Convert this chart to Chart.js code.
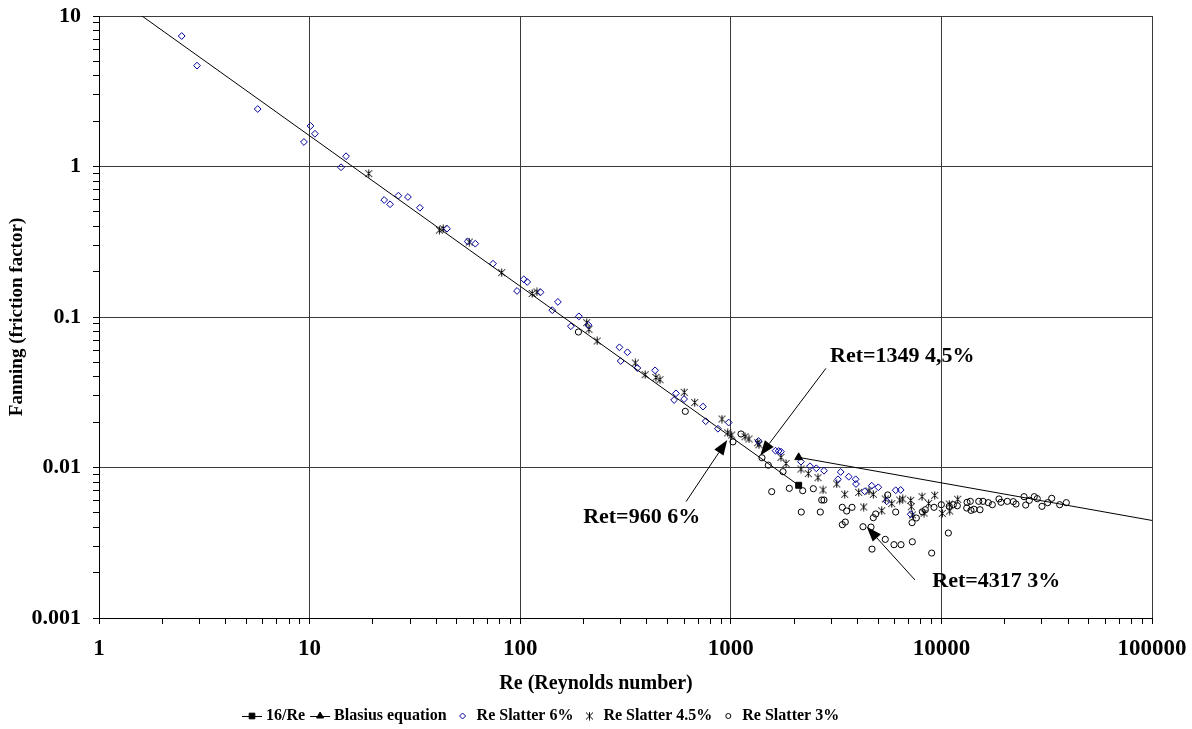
<!DOCTYPE html>
<html>
<head>
<meta charset="utf-8">
<title>Fanning friction factor vs Reynolds number</title>
<script src="https://cdn.jsdelivr.net/npm/chart.js@4.4.1/dist/chart.umd.min.js"></script>
<style>
    html, body { margin: 0; padding: 0; background: #fff; }
    #wrap { width: 1192px; height: 729px; position: relative; }
</style>
</head>
<body>
<div id="wrap"><canvas id="frictionChart"></canvas></div>
<script>
// Values: Reynolds number and Fanning friction factor

// 16/Re laminar line (first point sits above the plot and is clipped)
const laminarRe = [1, 2100];
const laminarF = [16, 0.00762];

// Blasius equation, runs off the right edge
const blasiusRe = [2100, 120000];
const blasiusF = [0.01168, 0.00425];

// Re Slatter 6%
const sixRe = [2.47, 2.92, 5.67, 9.4, 10.1, 10.6, 14.1, 14.9, 22.6, 24.1,
    26.4, 29.3, 33.4, 44.9, 56.3, 61.2, 74.3, 96.6, 104, 108,
    125, 142, 151, 174, 190, 211, 296, 323, 300, 360,
    437, 549, 538, 600, 738, 760, 869, 977, 1353, 1631,
    1688, 1731, 2154, 2377, 2547, 2770, 3325, 3228, 3630, 3917,
    3931, 4667, 5016, 4323, 6067, 6408, 5499, 7150];
const sixF = [7.36, 4.68, 2.41, 1.455, 1.86, 1.65, 0.988, 1.17, 0.599, 0.561,
    0.64, 0.627, 0.532, 0.386, 0.318, 0.307, 0.226, 0.149, 0.178, 0.171,
    0.146, 0.111, 0.126, 0.0868, 0.101, 0.0885, 0.0629, 0.0583, 0.051, 0.0458,
    0.0442, 0.0311, 0.0281, 0.0285, 0.0254, 0.0203, 0.0181, 0.0199, 0.015, 0.01293,
    0.01287, 0.01274, 0.01093, 0.01019, 0.00988, 0.00952, 0.00934, 0.00835, 0.00869, 0.00835,
    0.00777, 0.00757, 0.00739, 0.00695, 0.00706, 0.00709, 0.00596, 0.00489];

// Re Slatter 4.5%
const fourRe = [19.1, 41.3, 43.1, 57.3, 81.7, 114, 120, 207, 212, 232,
    352, 392, 441, 461, 601, 674, 908, 967, 1010, 1168,
    1220, 1342, 1361, 1731, 1829, 2154, 2333, 2594, 2741, 3183,
    3474, 4049, 4277, 4531, 4750, 5206, 5414, 5808, 6339, 6550,
    7150, 7195, 8090, 8270, 8700, 9295, 10100, 10900, 10950, 11950,
    7280];
const fourF = [0.896, 0.378, 0.386, 0.315, 0.197, 0.1433, 0.1466, 0.0917, 0.0829, 0.0693,
    0.0495, 0.0414, 0.0397, 0.0383, 0.0316, 0.027, 0.021, 0.017, 0.01644, 0.01602,
    0.01547, 0.01462, 0.01417, 0.01169, 0.01063, 0.00977, 0.0091, 0.00855, 0.00709, 0.00777,
    0.00664, 0.00684, 0.00546, 0.00698, 0.00664, 0.00516, 0.00618, 0.00575, 0.00608, 0.00618,
    0.00605, 0.00549, 0.0064, 0.00498, 0.00578, 0.00654, 0.00496, 0.00572, 0.00514, 0.00615,
    0.00484];

// Re Slatter 3%
const threeRe = [189, 608, 1024, 1118, 1406, 1507, 1770, 1564, 1896, 2195,
    2465, 2161, 2661, 2702, 2770, 3384, 3550, 3763, 3384, 3497,
    4243, 4632, 4683, 4750, 4875, 5414, 5559, 6067, 5955, 6430,
    7276, 7253, 7601, 8117, 8388, 8993, 9224, 9990, 10900, 10790,
    11390, 11900, 13240, 13720, 13190, 13820, 14280, 15250, 15040, 15760,
    16700, 17450, 18770, 19190, 20560, 21950, 22610, 24680, 25140, 26150,
    27610, 28520, 30030, 31960, 33400, 36450, 39190];
const threeF = [0.0795, 0.0236, 0.0148, 0.0167, 0.0116, 0.01036, 0.00938, 0.00691, 0.00727, 0.00701,
    0.00723, 0.00506, 0.00506, 0.00608, 0.00608, 0.00544, 0.00514, 0.00544, 0.00417, 0.00434,
    0.00404, 0.00402, 0.00287, 0.00464, 0.00491, 0.00333, 0.00657, 0.00506, 0.00307, 0.00307,
    0.00321, 0.0043, 0.00462, 0.00508, 0.00524, 0.0027, 0.00544, 0.00566, 0.00552, 0.00367,
    0.00566, 0.00557, 0.00587, 0.00596, 0.00538, 0.00519, 0.00528, 0.00524, 0.00596, 0.00596,
    0.00584, 0.00566, 0.00618, 0.00587, 0.00596, 0.00593, 0.00572, 0.0064, 0.00563, 0.00605,
    0.0064, 0.00621, 0.00552, 0.00584, 0.00624, 0.00566, 0.00584];

// Axis decades and their labels
const xDecades = [1, 10, 100, 1000, 10000, 100000];
const xLabels = ['1', '10', '100', '1000', '10000', '100000'];
const yDecades = [0.001, 0.01, 0.1, 1, 10];
const yLabels = ['0.001', '0.01', '0.1', '1', '10'];
const xTitle = 'Re (Reynolds number)';

// Arrow notes (tip, tail and text anchor in data units)
const noteText = ['Ret=1349 4,5%', 'Ret=960 6%', 'Ret=4317 3%'];
const noteTipRe = [1380, 962, 4420];
const noteTipF = [0.0120, 0.01523, 0.00404];
const noteTailRe = [2830, 613, 7490];
const noteTailF = [0.0456, 0.00593, 0.00179];
const noteLabelRe = [2958, 199, 9055];
const noteLabelF = [0.0502, 0.00426, 0.00160];

const FONT = '"Liberation Serif", "Times New Roman", serif';

function toPoints(xs, ys) {
    return xs.map((v, i) => ({ x: v, y: ys[i] }));
}

// Log ticks at 1..9 in every decade, majors only at the decade
function decadeTicks(decades) {
    const ticks = [];
    decades.forEach((d, k) => {
        if (k === decades.length - 1) {
            ticks.push({ value: d, major: true });
            return;
        }
        for (let m = 1; m <= 9; m++) {
            ticks.push({ value: d * m, major: m === 1 });
        }
    });
    return ticks;
}

// Asterisk marker like the spreadsheet one: X with a vertical stroke
function makeAsterisk(size) {
    const c = document.createElement('canvas');
    c.width = size;
    c.height = size;
    const g = c.getContext('2d');
    g.strokeStyle = '#000';
    g.lineWidth = 1;
    const m = size / 2;
    g.beginPath();
    g.moveTo(m, 0.5); g.lineTo(m, size - 0.5);
    g.moveTo(1, 1); g.lineTo(size - 1, size - 1);
    g.moveTo(size - 1, 1); g.lineTo(1, size - 1);
    g.stroke();
    return c;
}
const asterisk = makeAsterisk(9);

const whiteBg = {
    id: 'whiteBg',
    beforeDraw(chart) {
        const ctx = chart.ctx;
        ctx.save();
        ctx.fillStyle = '#fff';
        ctx.fillRect(0, 0, chart.width, chart.height);
        ctx.restore();
    }
};

const arrowNotes = {
    id: 'arrowNotes',
    afterDatasetsDraw(chart) {
        const { ctx, scales: { x, y } } = chart;
        ctx.save();
        ctx.strokeStyle = '#000';
        ctx.fillStyle = '#000';
        ctx.lineWidth = 1;
        noteText.forEach((txt, i) => {
            const tx = x.getPixelForValue(noteTipRe[i]);
            const ty = y.getPixelForValue(noteTipF[i]);
            const sx = x.getPixelForValue(noteTailRe[i]);
            const sy = y.getPixelForValue(noteTailF[i]);
            const ang = Math.atan2(ty - sy, tx - sx);
            const headLen = 15, headHalf = 5.5;
            const bx = tx - headLen * Math.cos(ang);
            const by = ty - headLen * Math.sin(ang);
            ctx.beginPath();
            ctx.moveTo(sx, sy);
            ctx.lineTo(bx, by);
            ctx.stroke();
            ctx.beginPath();
            ctx.moveTo(tx, ty);
            ctx.lineTo(bx + headHalf * Math.sin(ang), by - headHalf * Math.cos(ang));
            ctx.lineTo(bx - headHalf * Math.sin(ang), by + headHalf * Math.cos(ang));
            ctx.closePath();
            ctx.fill();
            ctx.font = 'bold 22px ' + FONT;
            ctx.textAlign = 'left';
            ctx.textBaseline = 'alphabetic';
            ctx.fillText(txt, x.getPixelForValue(noteLabelRe[i]), y.getPixelForValue(noteLabelF[i]));
        });
        ctx.restore();
    }
};

// x title centred on the whole figure, legend below it
// (line series drawn as line + marker)
const bottomLegend = {
    id: 'bottomLegend',
    afterDraw(chart) {
        const ctx = chart.ctx;
        ctx.save();
        ctx.fillStyle = '#000';
        ctx.font = 'bold 20px ' + FONT;
        ctx.textAlign = 'center';
        ctx.textBaseline = 'middle';
        ctx.fillText(xTitle, chart.width / 2, 684);

        const legendY = 716;
        let lx = 242;
        ctx.font = 'bold 16px ' + FONT;
        ctx.textAlign = 'left';
        chart.data.datasets.forEach(ds => {
            let markerX, textX;
            if (ds.showLine) {
                ctx.strokeStyle = '#000';
                ctx.lineWidth = 1;
                ctx.beginPath();
                ctx.moveTo(lx, legendY + 0.5);
                ctx.lineTo(lx + 20, legendY + 0.5);
                ctx.stroke();
                markerX = lx + 10;
                textX = lx + 24;
            } else {
                markerX = lx + 11;
                textX = markerX + 14;
            }
            ctx.strokeStyle = ds.borderColor;
            ctx.fillStyle = ds.pointBackgroundColor;
            ctx.lineWidth = 1;
            Chart.helpers.drawPoint(ctx, {
                pointStyle: ds.pointStyle,
                radius: ds.legendRadius,
                borderWidth: 1,
                rotation: 0
            }, markerX, legendY);
            ctx.fillStyle = '#000';
            ctx.fillText(ds.label, textX, legendY);
            lx = textX + ctx.measureText(ds.label).width + 5;
        });
        ctx.restore();
    }
};

const gridColor = c => (c.tick && c.tick.major ? '#3a3a3a' : 'rgba(0,0,0,0)');

const ctx = document.getElementById('frictionChart').getContext('2d');
const frictionChart = new Chart(ctx, {
    type: 'scatter',
    data: {
        datasets: [
            {
                label: '16/Re',
                data: toPoints(laminarRe, laminarF),
                showLine: true,
                borderColor: '#000',
                borderWidth: 1,
                pointStyle: 'rect',
                pointRadius: 4.2,
                legendRadius: 4,
                pointBackgroundColor: '#000',
                pointBorderColor: '#000'
            },
            {
                label: 'Blasius equation',
                data: toPoints(blasiusRe, blasiusF),
                showLine: true,
                borderColor: '#000',
                borderWidth: 1,
                pointStyle: 'triangle',
                pointRadius: 4.5,
                legendRadius: 4,
                pointBackgroundColor: '#000',
                pointBorderColor: '#000'
            },
            {
                label: 'Re Slatter 6%',
                data: toPoints(sixRe, sixF),
                borderColor: '#000099',
                pointStyle: 'rectRot',
                pointRadius: 3.4,
                legendRadius: 3,
                pointBorderWidth: 1,
                pointBackgroundColor: 'rgba(0,0,0,0)',
                pointBorderColor: '#000099'
            },
            {
                label: 'Re Slatter 4.5%',
                data: toPoints(fourRe, fourF),
                borderColor: '#000',
                pointStyle: asterisk,
                pointRadius: 4,
                legendRadius: 3,
                pointBackgroundColor: 'rgba(0,0,0,0)',
                pointBorderColor: '#000'
            },
            {
                label: 'Re Slatter 3%',
                data: toPoints(threeRe, threeF),
                borderColor: '#000',
                pointStyle: 'circle',
                pointRadius: 3.1,
                legendRadius: 2.5,
                pointBorderWidth: 1,
                pointBackgroundColor: 'rgba(0,0,0,0)',
                pointBorderColor: '#000'
            }
        ]
    },
    options: {
        responsive: true,
        maintainAspectRatio: false,
        animation: false,
        layout: {
            padding: { top: 16, right: 40, bottom: 0, left: 0 }
        },
        plugins: {
            legend: { display: false },
            tooltip: { enabled: false }
        },
        scales: {
            x: {
                type: 'logarithmic',
                min: 1,
                max: 100000,
                afterBuildTicks: s => { s.ticks = decadeTicks(xDecades); },
                afterFit: s => {
                    s.height = 111;
                    // let the layout padding alone decide the plot edges
                    s.paddingLeft = 0;
                    s.paddingRight = 0;
                },
                grid: { color: gridColor, tickColor: '#000', tickLength: 6, lineWidth: 1 },
                border: { color: '#000', width: 1 },
                ticks: {
                    autoSkip: false,
                    maxRotation: 0,
                    padding: 11,
                    color: '#000',
                    font: { family: FONT, size: 23, weight: 'bold' },
                    callback: v => {
                        const k = xDecades.indexOf(v);
                        return k >= 0 ? xLabels[k] : '';
                    }
                },
                title: { display: false }
            },
            y: {
                type: 'logarithmic',
                min: 0.001,
                max: 10,
                afterBuildTicks: s => { s.ticks = decadeTicks(yDecades); },
                afterFit: s => {
                    s.width = 99;
                    s.paddingTop = 0;
                    s.paddingBottom = 0;
                },
                grid: { color: gridColor, tickColor: '#000', tickLength: 6, lineWidth: 1 },
                border: { color: '#000', width: 1 },
                ticks: {
                    autoSkip: false,
                    padding: 12,
                    color: '#000',
                    font: { family: FONT, size: 22, weight: 'bold' },
                    callback: v => {
                        const k = yDecades.indexOf(v);
                        return k >= 0 ? yLabels[k] : '';
                    }
                },
                title: {
                    display: true,
                    text: 'Fanning (friction factor)',
                    color: '#000',
                    font: { family: FONT, size: 19, weight: 'bold' },
                    padding: { top: 6, bottom: 0 }
                }
            }
        }
    },
    plugins: [whiteBg, arrowNotes, bottomLegend]
});
</script>
</body>
</html>
